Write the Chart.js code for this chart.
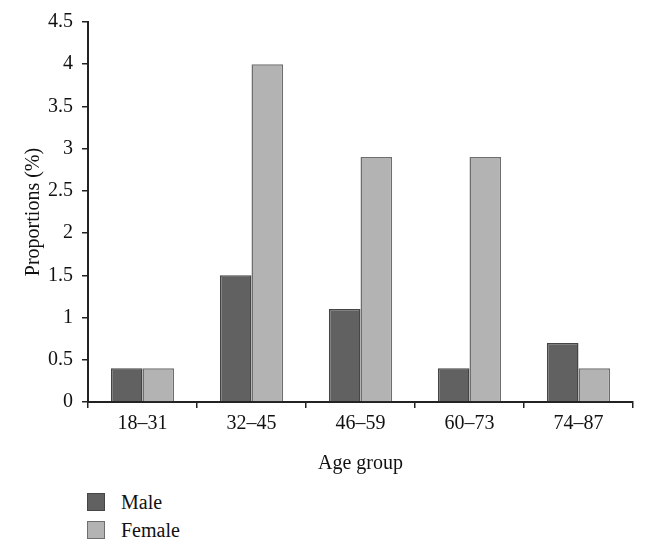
<!DOCTYPE html>
<html>
<head>
<meta charset="utf-8">
<script src="https://cdn.jsdelivr.net/npm/chart.js@4/dist/chart.umd.min.js"></script>
<style>
  html, body { margin: 0; padding: 0; background: #fff; }
  #wrap { position: relative; width: 647px; height: 553px; }
  #legend { position: absolute; left: 87px; top: 488px; font-family: "Liberation Serif", serif; font-size: 20px; color: #111; }
  .li { height: 28px; display: flex; align-items: center; }
  .sw { width: 18px; height: 18px; box-sizing: border-box; margin-right: 16px; }
</style>
</head>
<body>
<div id="wrap">
  <canvas id="c" width="647" height="480"></canvas>
  <div id="legend"></div>
</div>
<script>
// Proporción por grupo de edad, hombres vs mujeres
const categorias = ["18\u201331", "32\u201345", "46\u201359", "60\u201373", "74\u201387"];
const male = [0.4, 1.5, 1.1, 0.4, 0.7];
const female = [0.4, 4.0, 2.9, 2.9, 0.4];

const SERIF = "'Liberation Serif', 'DejaVu Serif', serif";
const series = [
  { label: "Male", data: male, bg: "#616161", border: "#454545" },
  { label: "Female", data: female, bg: "#b3b3b3", border: "#6e6e6e" }
];

new Chart(document.getElementById("c"), {
  type: "bar",
  data: {
    labels: categorias,
    datasets: series.map(s => ({
      label: s.label, data: s.data,
      backgroundColor: s.bg, borderColor: s.border, borderWidth: 1.5,
      categoryPercentage: 0.58, barPercentage: 1.0
    }))
  },
  options: {
    responsive: false, animation: false,
    layout: { padding: { top: 22, right: 14, left: 22, bottom: 0 } },
    plugins: { legend: { display: false }, tooltip: { enabled: false } },
    scales: {
      x: {
        offset: true,
        grid: { display: true, drawOnChartArea: false, offset: true, tickLength: 6, color: "#222", lineWidth: 1.5 },
        border: { color: "#222", width: 2 },
        ticks: { color: "#111", font: { family: SERIF, size: 20 }, padding: 4 },
        title: { display: true, text: "Age group", color: "#111", font: { family: SERIF, size: 20 }, padding: { top: 8 } },
        afterFit: (s) => { s.height = 78; }
      },
      y: {
        min: 0, max: 4.5,
        grid: { display: true, drawOnChartArea: false, tickLength: 6, color: "#222", lineWidth: 1.5 },
        border: { color: "#222", width: 2 },
        ticks: { stepSize: 0.5, color: "#111", font: { family: SERIF, size: 20 }, padding: 9,
          callback: (v) => String(v) },
        title: { display: true, text: "Proportions (%)", color: "#111", font: { family: SERIF, size: 20 }, padding: 0 },
        afterFit: (s) => { s.width = 66; }
      }
    }
  }
});

// leyenda vertical abajo a la izquierda
const leg = document.getElementById("legend");
series.forEach(s => {
  const row = document.createElement("div");
  row.className = "li";
  const sw = document.createElement("span");
  sw.className = "sw";
  sw.style.background = s.bg;
  sw.style.border = "1.5px solid " + s.border;
  row.appendChild(sw);
  row.appendChild(document.createTextNode(s.label));
  leg.appendChild(row);
});
</script>
</body>
</html>
